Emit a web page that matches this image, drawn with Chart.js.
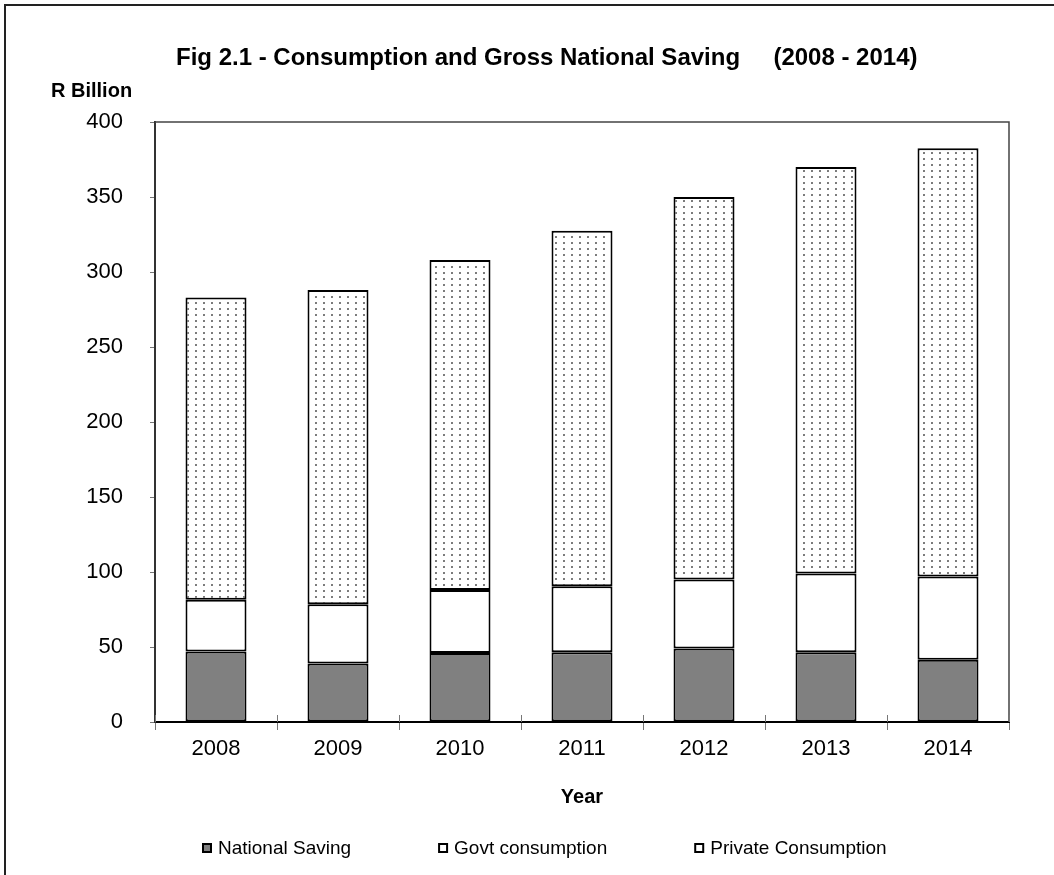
<!DOCTYPE html>
<html>
<head>
<meta charset="utf-8">
<script src="https://cdn.jsdelivr.net/npm/chart.js@4.4.1/dist/chart.umd.min.js"></script>
<style>
  html, body { margin: 0; padding: 0; background: #fff; }
  #wrap { width: 1054px; height: 875px; }
</style>
</head>
<body>
<div id="wrap"><canvas id="c" width="1054" height="875"></canvas></div>
<script>
// Consumption and Gross National Saving, R billion
const years = ['2008', '2009', '2010', '2011', '2012', '2013', '2014'];
const nationalSaving = [47, 39, 46, 46.5, 49, 46.5, 41.5];
const govtConsumption = [34.5, 39.5, 42, 44, 46, 52.5, 55.5];
const privateConsumption = [201.5, 209.5, 220, 237, 255, 271, 285.5];
const yTickValues = [0, 50, 100, 150, 200, 250, 300, 350, 400];

const FONT = '"Liberation Sans", Arial, Helvetica, sans-serif';
Chart.defaults.font.family = FONT;
Chart.defaults.color = '#000';

const canvas = document.getElementById('c');
const ctx = canvas.getContext('2d');

// Dotted fill for the private consumption segments
function dotPattern() {
  const p = document.createElement('canvas');
  p.width = 8; p.height = 6;
  const g = p.getContext('2d');
  g.fillStyle = '#fff';
  g.fillRect(0, 0, 8, 6);
  g.fillStyle = '#444';
  g.beginPath();
  g.arc(4, 3, 0.95, 0, Math.PI * 2);
  g.fill();
  return ctx.createPattern(p, 'repeat');
}

// Titles, frame, inner tick marks and legend
const decorations = {
  id: 'decorations',
  afterDatasetsDraw(chart) {
    const c = chart.ctx;
    const a = chart.chartArea;
    const xs = chart.scales.x;
    c.save();
    // top and right frame of the plot area
    c.strokeStyle = '#444';
    c.lineWidth = 1.5;
    c.beginPath();
    c.moveTo(a.left, a.top);
    c.lineTo(a.right, a.top);
    c.lineTo(a.right, a.bottom);
    c.stroke();
    // category tick marks reaching up into the plot
    c.strokeStyle = '#777';
    c.lineWidth = 1;
    const step = xs.width / years.length;
    for (let i = 0; i <= years.length; i++) {
      const x = Math.round(xs.left + i * step) + 0.5;
      c.beginPath();
      c.moveTo(x, a.bottom - 7);
      c.lineTo(x, a.bottom);
      c.stroke();
    }
    c.restore();
  },
  afterDraw(chart) {
    const c = chart.ctx;
    const a = chart.chartArea;
    c.save();
    // outer frame
    c.strokeStyle = '#222';
    c.lineWidth = 2;
    c.strokeRect(5, 5, 1060, 880);

    // chart title
    c.fillStyle = '#000';
    c.font = 'bold 24px ' + FONT;
    c.textAlign = 'left';
    c.textBaseline = 'alphabetic';
    c.fillText('Fig 2.1 - Consumption and Gross National Saving     (2008 - 2014)', 176, 65);

    // unit label above the value axis
    c.font = 'bold 20px ' + FONT;
    c.fillText('R Billion', 51, 97);

    // legend
    c.font = '19px ' + FONT;
    c.textBaseline = 'middle';
    let x = a.left + 47;
    const y = 848;
    chart.data.datasets.forEach((ds) => {
      c.fillStyle = ds.legendFill;
      c.fillRect(x, y - 5, 10, 10);
      c.strokeStyle = '#000';
      c.lineWidth = 2;
      c.strokeRect(x + 1, y - 4, 8, 8);
      c.fillStyle = '#000';
      c.fillText(ds.label, x + 16, y + 1);
      x += 16 + c.measureText(ds.label).width + 87;
    });
    c.restore();
  }
};

new Chart(ctx, {
  type: 'bar',
  data: {
    labels: years,
    datasets: [
      {
        label: 'National Saving',
        data: nationalSaving,
        backgroundColor: '#808080',
        legendFill: '#808080',
        borderColor: '#000',
        borderWidth: 2,
        borderSkipped: false
      },
      {
        label: 'Govt consumption',
        data: govtConsumption,
        backgroundColor: '#ffffff',
        legendFill: '#ffffff',
        borderColor: '#000',
        borderWidth: 2,
        borderSkipped: false
      },
      {
        label: 'Private Consumption',
        data: privateConsumption,
        backgroundColor: dotPattern(),
        legendFill: '#ffffff',
        borderColor: '#000',
        borderWidth: 2,
        borderSkipped: false
      }
    ]
  },
  options: {
    responsive: false,
    animation: false,
    devicePixelRatio: 1,
    layout: { padding: { left: 0, right: 45, top: 122, bottom: 63 } },
    datasets: { bar: { barPercentage: 0.5, categoryPercentage: 1 } },
    plugins: {
      legend: { display: false },
      title: { display: false },
      tooltip: { enabled: false }
    },
    scales: {
      x: {
        stacked: true,
        ticks: { color: '#000', font: { size: 22 }, padding: 6, maxRotation: 0 },
        grid: { display: true, offset: true, drawOnChartArea: false, drawTicks: true, tickLength: 8, color: '#777', lineWidth: 1 },
        border: { display: true, color: '#000', width: 2 },
        title: { display: true, text: 'Year', color: '#000', font: { size: 20, weight: 'bold' }, padding: { top: 0, bottom: 3 } },
        afterFit(s) { s.height = 90; }
      },
      y: {
        stacked: true,
        min: 0,
        max: 400,
        afterBuildTicks(s) { s.ticks = yTickValues.map(v => ({ value: v })); },
        ticks: { color: '#000', font: { size: 22 }, padding: 27 },
        grid: { display: true, drawOnChartArea: false, drawTicks: true, tickLength: 5, color: '#777', lineWidth: 1 },
        border: { display: true, color: '#333', width: 2 },
        afterFit(s) { s.width = 155; }
      }
    }
  },
  plugins: [decorations]
});
</script>
</body>
</html>
